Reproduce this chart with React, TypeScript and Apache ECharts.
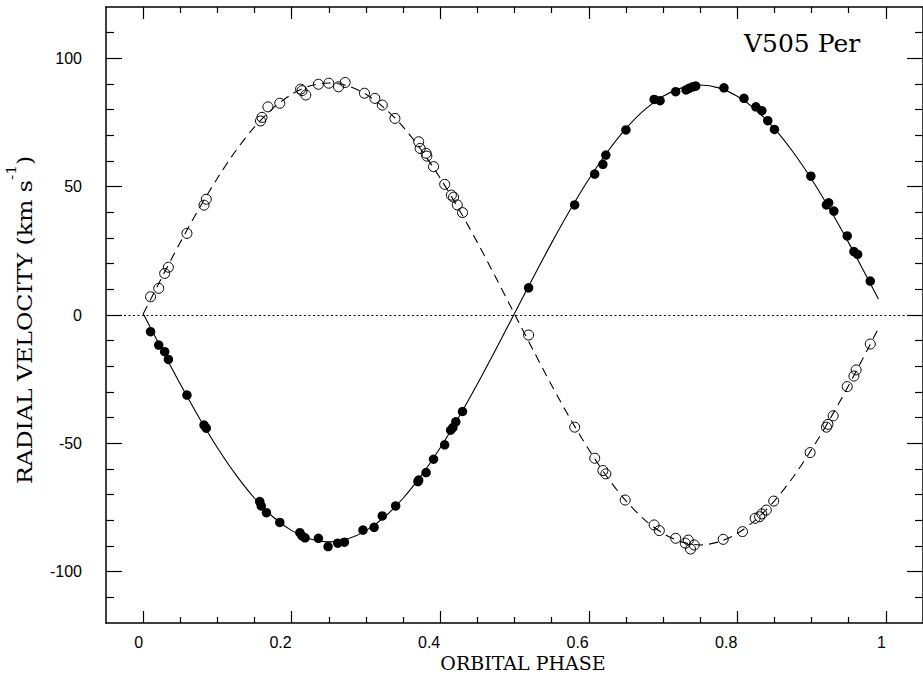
import React, { useEffect, useRef } from "react";
import * as echarts from "echarts";

// Axis ticks / labels
const xMajorTicks = [0, 0.2, 0.4, 0.6, 0.8, 1];
const xMinorTicks = [0.05, 0.1, 0.15, 0.25, 0.3, 0.35, 0.45, 0.5, 0.55, 0.65, 0.7, 0.75, 0.85, 0.9, 0.95, 1.05];
const yMajorTicks = [-100, -50, 0, 50, 100];
const yMinorTicks = [-110, -90, -80, -70, -60, -40, -30, -20, -10, 10, 20, 30, 40, 60, 70, 80, 90, 110];

// Secondary star (open circles)
const secondaryPhase = [0.010, 0.021, 0.029, 0.034, 0.059, 0.082, 0.085, 0.158, 0.160, 0.168, 0.184, 0.212, 0.214, 0.219, 0.236, 0.250, 0.263, 0.272, 0.298, 0.312, 0.322, 0.339, 0.371, 0.373, 0.381, 0.382, 0.391, 0.406, 0.415, 0.418, 0.423, 0.430,
  0.519, 0.581, 0.608, 0.619, 0.623, 0.649, 0.688, 0.695, 0.717, 0.730, 0.734, 0.737, 0.742, 0.781, 0.807, 0.824, 0.830, 0.833, 0.839, 0.849, 0.898, 0.920, 0.922, 0.929, 0.948, 0.957, 0.960, 0.979];
const secondaryRV = [7.1, 10.4, 16.2, 18.6, 31.8, 42.8, 45.1, 75.6, 77.0, 81.1, 82.5, 88.0, 87.4, 85.7, 89.9, 90.3, 88.9, 90.6, 86.4, 84.4, 81.8, 76.6, 67.5, 64.9, 63.0, 61.9, 57.8, 50.9, 46.7, 45.9, 42.9, 39.9,
  -7.8, -43.7, -55.8, -60.6, -61.9, -72.1, -81.8, -84.0, -87.0, -88.9, -87.7, -91.2, -89.6, -87.4, -84.4, -79.2, -78.6, -77.5, -76.0, -72.5, -53.6, -43.7, -42.6, -39.3, -27.9, -23.8, -21.4, -11.3];

// Primary star (filled circles)
const primaryPhase = [0.010, 0.021, 0.029, 0.034, 0.059, 0.082, 0.085, 0.157, 0.159, 0.166, 0.184, 0.211, 0.214, 0.218, 0.236, 0.249, 0.262, 0.271, 0.296, 0.311, 0.322, 0.340, 0.370, 0.371, 0.381, 0.391, 0.406, 0.414, 0.417, 0.421, 0.430,
  0.519, 0.581, 0.608, 0.619, 0.623, 0.650, 0.688, 0.696, 0.717, 0.731, 0.735, 0.740, 0.744, 0.782, 0.809, 0.825, 0.833, 0.841, 0.850, 0.899, 0.920, 0.923, 0.930, 0.948, 0.957, 0.962, 0.979];
const primaryRV = [-6.5, -11.7, -14.3, -17.3, -31.2, -42.9, -44.1, -72.7, -74.4, -77.0, -80.8, -84.8, -86.1, -86.8, -87.0, -90.2, -88.9, -88.5, -83.8, -82.7, -78.3, -74.4, -64.9, -64.3, -61.4, -56.2, -50.6, -44.9, -43.9, -41.6, -37.6,
  10.6, 42.9, 54.9, 58.7, 62.3, 72.1, 84.0, 83.5, 87.0, 87.7, 88.3, 88.9, 89.2, 88.5, 84.4, 81.1, 79.6, 75.7, 72.3, 54.1, 42.9, 43.7, 40.5, 30.8, 24.7, 23.6, 13.2];

// Orbit fit curves
const fitPhase = [0, 0.025, 0.05, 0.075, 0.1, 0.125, 0.15, 0.175, 0.2, 0.225, 0.25, 0.275, 0.3, 0.325, 0.35, 0.375, 0.4, 0.425, 0.45, 0.475,
  0.5, 0.525, 0.55, 0.575, 0.6, 0.625, 0.65, 0.675, 0.7, 0.725, 0.75, 0.775, 0.8, 0.825, 0.85, 0.875, 0.9, 0.925, 0.95, 0.975, 0.99];
const primaryFit = [0.6, -13.3, -26.9, -39.8, -51.7, -62.3, -71.4, -78.7, -84.0, -87.3, -88.4, -87.3, -84.0, -78.7, -71.4, -62.3, -51.7, -39.8, -26.9, -13.3,
  0.6, 14.5, 28.1, 41.0, 52.9, 63.5, 72.6, 79.9, 85.2, 88.5, 89.6, 88.5, 85.2, 79.9, 72.6, 63.5, 52.9, 41.0, 28.1, 14.5, 6.2];
const secondaryFit = [0.4, 14.5, 28.3, 41.3, 53.3, 64.1, 73.3, 80.6, 86.0, 89.3, 90.4, 89.3, 86.0, 80.6, 73.3, 64.1, 53.3, 41.3, 28.3, 14.5,
  0.4, -13.6, -27.4, -40.4, -52.4, -63.2, -72.4, -79.7, -85.1, -88.4, -89.6, -88.4, -85.1, -79.7, -72.4, -63.2, -52.4, -40.4, -27.4, -13.6, -5.2];

const X_MIN = -0.05, X_MAX = 1.05, Y_MIN = -120, Y_MAX = 120;
const SANS = '"Liberation Sans", Arial, sans-serif';
const SERIF = '"DejaVu Serif", serif';

function zip(a: number[], b: number[]) {
  return a.map((v, i) => [v, b[i]]);
}

function mkAxis(kind: "x" | "y", position: string, ticks: number[], len: number, showLine: boolean, showLabel: boolean) {
  const base: any = {
    type: "value",
    position,
    min: kind === "x" ? X_MIN : Y_MIN,
    max: kind === "x" ? X_MAX : Y_MAX,
    splitLine: { show: false },
    axisLine: { show: showLine, onZero: false, lineStyle: { color: "#000", width: 1.5 } },
    axisTick: { show: true, inside: true, length: len, customValues: ticks, lineStyle: { color: "#000", width: 1.2 } },
    axisLabel: { show: showLabel, customValues: ticks },
  };
  if (showLabel) {
    if (kind === "x") {
      base.axisLabel = {
        show: true, customValues: ticks, color: "#000", fontFamily: SANS, fontSize: 16, margin: 11,
        align: "right", formatter: (v: number) => String(v),
      };
    } else {
      base.axisLabel = {
        show: true, customValues: ticks, color: "#000", fontFamily: SANS, fontSize: 16, margin: 24,
        padding: [6, 0, 0, 0], formatter: (v: number) => String(v),
      };
    }
  }
  return base;
}

export default function App() {
  const ref = useRef<HTMLDivElement>(null);
  useEffect(() => {
    if (!ref.current) return;
    const chart = echarts.init(ref.current, null, { renderer: "svg" });
    chart.setOption({
      animation: false,
      backgroundColor: "#fff",
      grid: { left: 106, top: 7, right: -6, bottom: 51, containLabel: false },
      xAxis: [
        mkAxis("x", "bottom", xMajorTicks, 12, true, true),
        mkAxis("x", "bottom", xMinorTicks, 6, false, false),
        mkAxis("x", "top", xMajorTicks, 12, true, false),
        mkAxis("x", "top", xMinorTicks, 6, false, false),
      ],
      yAxis: [
        mkAxis("y", "left", yMajorTicks, 16, true, true),
        mkAxis("y", "left", yMinorTicks, 8, false, false),
        mkAxis("y", "right", yMajorTicks, 16, true, false),
        mkAxis("y", "right", yMinorTicks, 8, false, false),
      ],
      graphic: [
        {
          type: "text", x: 744, y: 43,
          style: { text: "V505 Per", fill: "#000", font: `25px ${SERIF}`, align: "left", verticalAlign: "middle" },
        },
        {
          type: "text", x: 523, y: 663,
          style: { text: "ORBITAL PHASE", fill: "#000", font: `19px ${SERIF}`, align: "center", verticalAlign: "middle" },
        },
        {
          type: "text", x: 20, y: 320, rotation: Math.PI / 2, scaleX: 1.18, scaleY: 1,
          style: {
            text: "{a|RADIAL VELOCITY (km s}{b|-1}{a|)}",
            align: "center", verticalAlign: "middle", fill: "#000",
            rich: {
              a: { fontFamily: SERIF, fontSize: 20, lineHeight: 30, verticalAlign: "bottom", fill: "#000" },
              b: { fontFamily: SERIF, fontSize: 13, lineHeight: 16, verticalAlign: "top", fill: "#000" },
            },
          },
        },
      ],
      series: [
        {
          type: "scatter", xAxisIndex: 0, yAxisIndex: 0, symbol: "circle", symbolSize: 10,
          itemStyle: { color: "rgba(255,255,255,0)", borderColor: "#000", borderWidth: 1, opacity: 1 },
          data: zip(secondaryPhase, secondaryRV), z: 2,
        },
        {
          type: "line", xAxisIndex: 0, yAxisIndex: 0, showSymbol: false, smooth: 0.3,
          lineStyle: { color: "#000", width: 1.1, type: [9, 6] },
          data: zip(fitPhase, secondaryFit), z: 3,
        },
        {
          type: "line", xAxisIndex: 0, yAxisIndex: 0, showSymbol: false, smooth: 0.3,
          lineStyle: { color: "#000", width: 1.1 },
          data: zip(fitPhase, primaryFit), z: 3,
          markLine: {
            silent: true, symbol: ["none", "none"], label: { show: false },
            lineStyle: { color: "#000", width: 1, type: [2, 2.5] },
            data: [{ yAxis: 0 }],
          },
        },
        {
          type: "scatter", xAxisIndex: 0, yAxisIndex: 0, symbol: "circle", symbolSize: 9.5,
          itemStyle: { color: "#000", opacity: 1 },
          data: zip(primaryPhase, primaryRV), z: 4,
        },
      ],
    });
    return () => chart.dispose();
  }, []);
  return <div ref={ref} style={{ position: "absolute", left: 0, top: 0, width: 923, height: 674 }} />;
}
